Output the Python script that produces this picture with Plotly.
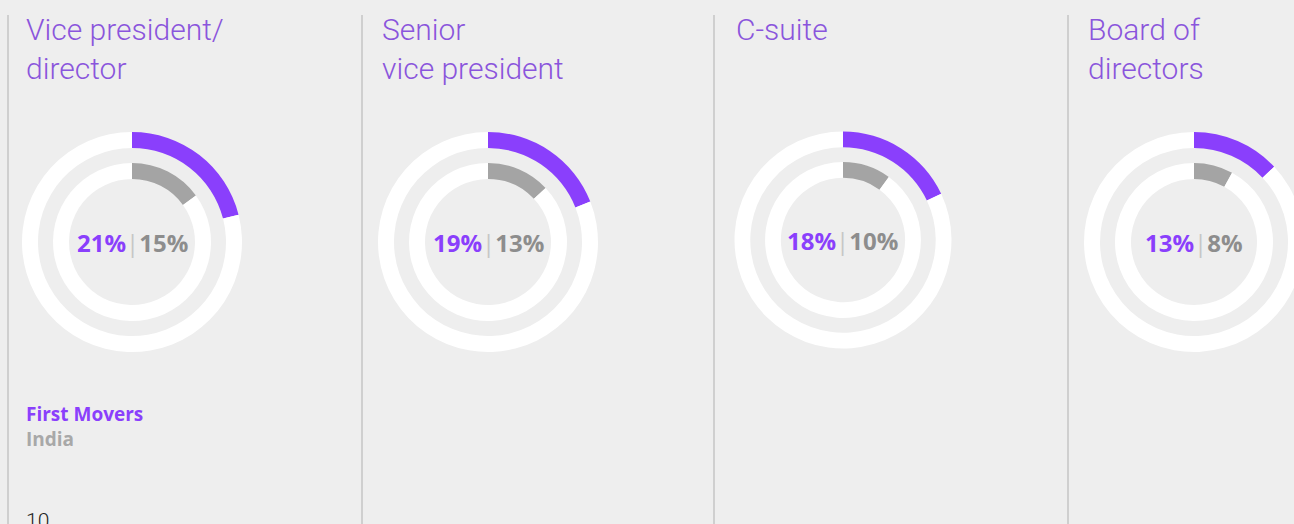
import plotly.graph_objects as go

# ---- data ----
categories = ["Vice president/<br>director", "Senior<br>vice president", "C-suite", "Board of<br>directors"]
first_movers = [21, 19, 18, 13]
india = [15, 13, 10, 8]
legend_labels = ["First Movers", "India"]
page_number = "10"

# ---- layout constants ----
W, H = 1310, 524
BG = "#eeeeee"
PURPLE = "#8a3ffc"
TITLE_PURPLE = "#8a55dc"
GRAY = "#a4a4a4"
GRAY_TXT = "#8d8d8d"

centers_x = [132, 488, 843, 1194]
centers_y = [242, 242, 240, 242]
radius = [110, 110, 108.5, 110]
title_x = [24, 380, 734, 1086]
divider_x = [8, 362, 714, 1068]


def dom(cx, cy, r):
    return dict(x=[(cx - r) / W, (cx + r) / W], y=[1 - (cy + r) / H, 1 - (cy - r) / H])


fig = go.Figure()
for i, cat in enumerate(categories):
    cx, cy, R = centers_x[i], centers_y[i], radius[i]
    r_in_outer = R * 94 / 110
    r_out_inner = R * 79 / 110
    r_in_inner = R * 63 / 110
    # outer ring: First Movers
    fig.add_trace(go.Pie(
        values=[first_movers[i], 100 - first_movers[i]],
        labels=[legend_labels[0], "rest"],
        marker=dict(colors=[PURPLE, "#ffffff"], line=dict(width=0)),
        hole=r_in_outer / R, sort=False, direction="clockwise", rotation=0,
        textinfo="none", hoverinfo="skip", showlegend=False,
        domain=dom(cx, cy, R),
    ))
    # inner ring: India
    fig.add_trace(go.Pie(
        values=[india[i], 100 - india[i]],
        labels=[legend_labels[1], "rest"],
        marker=dict(colors=[GRAY, "#ffffff"], line=dict(width=0)),
        hole=r_in_inner / r_out_inner, sort=False, direction="clockwise", rotation=0,
        textinfo="none", hoverinfo="skip", showlegend=False,
        domain=dom(cx, cy, r_out_inner),
    ))
    # center label
    fig.add_annotation(
        x=cx / W, y=1 - cy / H, xref="paper", yref="paper",
        xanchor="center", yanchor="middle", showarrow=False,
        text=(f"<b><span style='color:{PURPLE}'>{first_movers[i]}%</span></b>"
              f"<span style='color:#c6c6c6'>|</span>"
              f"<b><span style='color:{GRAY_TXT}'>{india[i]}%</span></b>"),
        font=dict(family="Open Sans", size=24),
    )
    # title
    fig.add_annotation(
        x=title_x[i] / W, y=1 - 10 / H, xref="paper", yref="paper",
        xanchor="left", yanchor="top", align="left", showarrow=False,
        text=cat, font=dict(family="Roboto", size=30, color=TITLE_PURPLE, weight=300),
    )
    # divider
    fig.add_shape(type="line", xref="paper", yref="paper",
                  x0=divider_x[i] / W, x1=divider_x[i] / W, y0=0, y1=1 - 15 / H,
                  line=dict(color="#c4c4c4", width=1.5))

# legend text
fig.add_annotation(
    x=24 / W, y=1 - 399 / H, xref="paper", yref="paper", xanchor="left", yanchor="top",
    align="left", showarrow=False,
    text=f"<b><span style='color:{PURPLE}'>{legend_labels[0]}</span></b><br>"
         f"<b><span style='color:#a8a8a8'>{legend_labels[1]}</span></b>",
    font=dict(family="Open Sans", size=19),
)
# page number
fig.add_annotation(
    x=24 / W, y=1 - 507 / H, xref="paper", yref="paper", xanchor="left", yanchor="top",
    showarrow=False, text=page_number,
    font=dict(family="Roboto", size=21, color="#222222", weight=300),
)

fig.update_layout(
    width=W, height=H, margin=dict(l=0, r=0, t=0, b=0),
    paper_bgcolor=BG, plot_bgcolor=BG,
)

fig.write_html(
    "out.html",
    config={"displayModeBar": False},
    post_script="document.body.style.margin='0';document.body.style.overflow='hidden';"
                "document.documentElement.style.overflow='hidden';",
)
